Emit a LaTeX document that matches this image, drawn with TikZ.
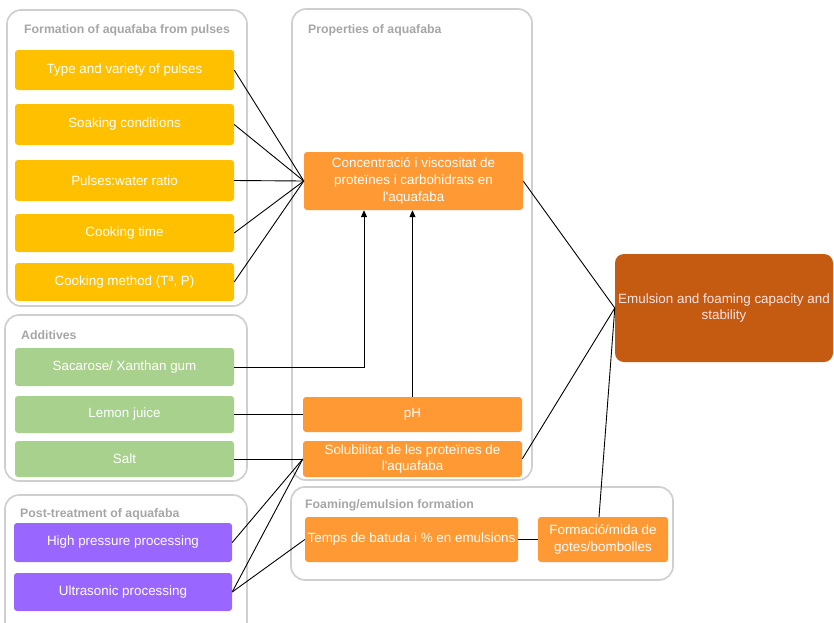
\documentclass[tikz,border=0pt]{standalone}
\usepackage{fontspec}
\setmainfont{Liberation Sans}[Ligatures=TeXOff]
\usetikzlibrary{arrows.meta}
\definecolor{ylw}{HTML}{FFC000}
\definecolor{grn}{HTML}{A9D18E}
\definecolor{prp}{HTML}{9966FF}
\definecolor{org}{HTML}{FF9933}
\definecolor{drk}{HTML}{C55A11}
\definecolor{gbord}{HTML}{CFCFCF}
\definecolor{glab}{HTML}{A6A6A6}
\definecolor{pinkw}{HTML}{FBE5E5}
\tikzset{
  grp/.style={draw=gbord, line width=1.7pt, rounded corners=14pt, inner sep=0pt},
  glabel/.style={anchor=west, text=glab, font=\fontsize{12.3}{14}\selectfont\bfseries, inner sep=0pt},
  boxbase/.style={rounded corners=3pt, text=white, align=center, inner sep=1pt,
    font=\fontsize{13.4}{16.8}\selectfont},
  ybox/.style={boxbase, fill=ylw},
  gbox/.style={boxbase, fill=grn},
  pbox/.style={boxbase, fill=prp},
  obox/.style={boxbase, fill=org},
  dbox/.style={boxbase, fill=drk, rounded corners=9pt, text=pinkw},
  conn/.style={draw=black, line width=0.9pt},
  arr/.style={conn, -{Triangle[width=6pt,length=7pt]}}
}
\begin{document}
\begin{tikzpicture}[x=1pt,y=-1pt]
\useasboundingbox (0,0) rectangle (834,622);
% groups
\node[grp, minimum width=240, minimum height=296] (g1) at (127,158) {};
\node[grp, minimum width=242, minimum height=166] (g2) at (126,398) {};
\node[grp, minimum width=242, minimum height=150] (g3) at (126,570) {};
\node[grp, minimum width=240, minimum height=471] (g4) at (412,244.5) {};
\node[grp, minimum width=382, minimum height=93] (g5) at (482,533.5) {};
\node[glabel] (l1) at (24,30) {Formation of aquafaba from pulses};
\node[glabel] (l2) at (21,335) {Additives};
\node[glabel] (l3) at (20,514) {Post-treatment of aquafaba};
\node[glabel] (l4) at (308,30) {Properties of aquafaba};
\node[glabel] (l5) at (305,505) {Foaming/emulsion formation};
% yellow
\node[ybox, minimum width=219, minimum height=40] (t1) at (124.5,70) {Type and variety of pulses};
\node[ybox, minimum width=219, minimum height=41] (t2) at (124.5,124.5) {Soaking conditions};
\node[ybox, minimum width=219, minimum height=41] (t3) at (124.5,180.5) {Pulses:water ratio};
\node[ybox, minimum width=219, minimum height=38] (t4) at (124.5,233) {Cooking time};
\node[ybox, minimum width=219, minimum height=38] (t5) at (124.5,282) {Cooking method (Tª, P)};
% green
\node[gbox, minimum width=219, minimum height=38] (sac) at (124.5,367) {Sacarose/ Xanthan gum};
\node[gbox, minimum width=219, minimum height=37] (lem) at (124.5,414.5) {Lemon juice};
\node[gbox, minimum width=219, minimum height=36] (salt) at (124.5,459) {Salt};
% purple
\node[pbox, minimum width=218, minimum height=39] (hpp) at (123,542.5) {High pressure processing};
\node[pbox, minimum width=218, minimum height=38] (us) at (123,592) {Ultrasonic processing};
% orange
\node[obox, minimum width=219, minimum height=58] (conc) at (413.5,181) {Concentració i viscositat de\\proteïnes i carbohidrats en\\l'aquafaba};
\node[obox, minimum width=219, minimum height=35] (ph) at (412.5,414.5) {pH};
\node[obox, minimum width=219, minimum height=36] (sol) at (412.5,459) {Solubilitat de les proteïnes de\\l'aquafaba};
\node[obox, minimum width=213, minimum height=45] (temps) at (411.5,539.5) {Temps de batuda i \% en emulsions};
\node[obox, minimum width=130, minimum height=45] (form) at (603,539.5) {Formació/mida de\\gotes/bombolles};
\node[dbox, minimum width=218, minimum height=108] (emul) at (724,308) {Emulsion and foaming capacity and\\stability};
% connectors
\foreach \n in {t1,t2,t3,t4,t5} \draw[conn] (\n.east) -- (conc.west);
\draw[arr] (sac.east) -| ([xshift=-49.5pt]conc.south);
\draw[arr] (ph.north) -- (ph.north |- conc.south);
\draw[conn] (lem.east) -- (ph.west);
\draw[conn] (salt.east) -- (sol.west);
\draw[conn] (hpp.east) -- (sol.west);
\draw[conn] (us.east) -- (sol.west);
\draw[conn] (us.east) -- (temps.west);
\draw[conn] (temps.east) -- (form.west);
\draw[conn] (conc.east) -- (emul.west);
\draw[conn] (sol.east) -- (emul.west);
\draw[conn] ([xshift=-4pt]form.north) -- (emul.west);
\end{tikzpicture}
\end{document}
